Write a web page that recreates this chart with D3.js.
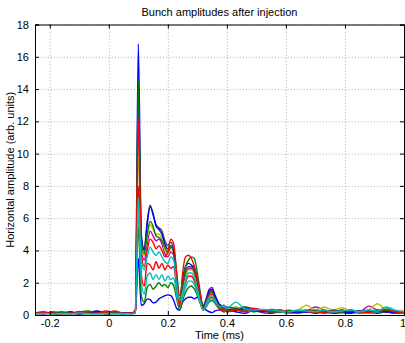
<!DOCTYPE html>
<html>
<head>
<meta charset="utf-8">
<script src="https://cdn.jsdelivr.net/npm/d3@7"></script>
<style>
  html, body { margin: 0; padding: 0; background: #fff; }
  svg { display: block; font-family: "Liberation Sans", Arial, Helvetica, sans-serif; }
</style>
</head>
<body>
<script>
// Sample times (ms)
const times = [
  -0.25, -0.22, -0.19, -0.16, -0.13, -0.10, -0.07, -0.04, -0.01, 0.02, 0.05, 0.08,
  0.09, 0.10, 0.11, 0.12, 0.13, 0.14, 0.15, 0.16, 0.17, 0.18, 0.19, 0.20, 0.21, 0.22,
  0.23, 0.24, 0.25, 0.26, 0.27, 0.28, 0.29, 0.30, 0.31, 0.32, 0.33, 0.34, 0.35, 0.36,
  0.37, 0.38, 0.39, 0.40,
  0.43, 0.46, 0.49, 0.52, 0.55, 0.58, 0.61, 0.64, 0.67, 0.70, 0.73, 0.76, 0.79, 0.82,
  0.85, 0.88, 0.91, 0.94, 0.97, 1.00
];

// Bunch amplitudes (arb. units), one array per bunch, drawn in this order
const bunch01 = [0.10,0.15,0.08,0.12,0.20,0.10,0.15,0.25,0.10,0.12,0.08,0.15,
  0.1,3.5,0.6,0.7,1.0,0.95,0.75,0.8,1.0,1.1,1.2,1.25,1.2,0.9,
  0.4,0.3,0.8,1.0,1.1,1.1,1.0,1.1,0.9,0.5,0.3,0.2,0.15,0.25,
  0.3,0.3,0.2,0.3,
  0.2,0.1,0.3,0.15,0.1,0.2,0.1,0.15,0.2,0.1,0.2,0.1,0.15,0.1,0.2,0.15,0.1,0.2,0.1,0.15];
const bunch02 = [0.15,0.10,0.20,0.12,0.08,0.18,0.25,0.10,0.15,0.20,0.12,0.10,
  0.2,5.5,1.2,0.8,1.7,1.9,1.6,1.8,2.0,1.8,1.9,1.7,2.0,1.8,
  1.0,0.3,0.9,1.4,1.7,1.8,1.6,1.2,0.7,0.3,0.5,0.8,0.9,0.7,
  0.5,0.3,0.3,0.2,
  0.3,0.4,0.2,0.3,0.15,0.2,0.25,0.1,0.2,0.15,0.3,0.2,0.15,0.2,0.1,0.2,0.25,0.15,0.2,0.1];
const bunch03 = [0.12,0.20,0.10,0.15,0.08,0.22,0.12,0.10,0.25,0.15,0.10,0.12,
  0.2,8.0,2.5,1.8,3.2,3.1,2.8,3.3,2.9,3.2,2.8,3.1,2.9,3.0,
  1.6,0.6,1.3,2.0,2.4,2.4,2.1,1.5,0.9,0.4,0.6,1.0,1.1,0.8,
  0.5,0.3,0.2,0.3,
  0.4,0.2,0.35,0.2,0.3,0.15,0.2,0.25,0.15,0.2,0.1,0.2,0.3,0.15,0.2,0.25,0.3,0.2,0.1,0.2];
const bunch04 = [0.05,0.10,0.08,0.06,0.10,0.05,0.08,0.10,0.06,0.08,0.05,0.10,
  0.1,6.5,2.0,1.3,2.4,2.6,2.2,2.5,2.2,2.5,2.1,2.4,2.2,2.3,
  1.2,0.5,1.1,1.7,2.1,2.1,1.9,1.3,0.8,0.4,0.5,0.9,1.0,0.7,
  0.5,0.4,0.3,0.2,
  0.5,0.3,0.2,0.25,0.3,0.2,0.1,0.15,0.2,0.25,0.2,0.15,0.3,0.2,0.15,0.1,0.2,0.45,0.2,0.15];
const bunch05 = [0.10,0.08,0.12,0.15,0.10,0.08,0.20,0.12,0.10,0.15,0.10,0.12,
  0.2,11.0,4.0,3.4,4.4,5.2,4.9,4.6,4.7,4.4,3.8,3.6,3.9,3.7,
  2.0,0.7,1.6,2.4,2.9,2.9,2.6,1.9,1.1,0.4,1.0,1.6,1.7,1.2,
  0.8,0.5,0.4,0.3,
  0.3,0.5,0.3,0.2,0.35,0.3,0.2,0.3,0.25,0.5,0.3,0.2,0.25,0.3,0.2,0.55,0.3,0.2,0.25,0.2];
const bunch06 = [0.08,0.12,0.10,0.08,0.15,0.12,0.10,0.08,0.12,0.10,0.15,0.10,
  0.2,10.5,4.3,3.7,4.8,5.6,5.3,5.0,5.0,4.7,4.0,3.8,4.1,3.8,
  2.1,0.6,1.5,2.3,2.8,2.8,2.5,1.8,1.0,0.3,0.9,1.4,1.5,1.1,
  0.8,0.6,0.5,0.4,
  0.5,0.3,0.4,0.3,0.25,0.3,0.2,0.3,0.6,0.3,0.5,0.3,0.45,0.25,0.2,0.3,0.7,0.3,0.2,0.25];
const bunch07 = [0.10,0.12,0.08,0.10,0.12,0.15,0.10,0.12,0.08,0.10,0.12,0.10,
  0.2,13.5,4.8,4.1,5.8,6.8,6.2,5.6,5.4,5.2,4.6,4.3,4.5,4.0,
  2.2,0.8,1.8,2.7,3.0,3.0,2.7,2.0,1.1,0.6,1.0,1.4,1.5,1.1,
  0.7,0.6,0.4,0.5,
  0.4,0.3,0.25,0.2,0.3,0.2,0.25,0.2,0.3,0.2,0.25,0.2,0.3,0.2,0.25,0.3,0.2,0.25,0.2,0.2];
const bunch08 = [0.12,0.08,0.15,0.10,0.12,0.08,0.10,0.20,0.12,0.10,0.15,0.12,
  0.3,16.8,5.0,4.0,5.6,6.7,6.3,5.5,5.3,5.0,4.4,4.1,4.3,3.9,
  2.0,0.9,2.2,3.0,3.2,3.1,2.9,2.2,1.2,0.5,0.9,1.5,1.6,1.2,
  0.8,0.5,0.6,0.4,
  0.3,0.4,0.3,0.25,0.2,0.3,0.2,0.15,0.2,0.25,0.2,0.3,0.2,0.15,0.25,0.2,0.3,0.2,0.15,0.2];
const bunch09 = [0.15,0.10,0.12,0.20,0.10,0.15,0.12,0.10,0.18,0.12,0.10,0.15,
  0.2,14.5,4.6,3.8,5.0,5.8,5.5,4.9,4.8,4.6,4.2,3.9,4.2,4.1,
  2.6,1.2,2.0,3.0,3.4,3.6,3.5,2.6,1.4,0.4,0.8,1.3,1.4,1.0,
  0.6,0.4,0.3,0.3,
  0.3,0.5,0.4,0.3,0.2,0.25,0.3,0.2,0.25,0.3,0.2,0.25,0.2,0.3,0.2,0.25,0.2,0.3,0.2,0.15];
const bunch10 = [0.10,0.15,0.12,0.08,0.10,0.20,0.10,0.12,0.15,0.25,0.10,0.12,
  0.3,12.1,3.8,3.0,4.0,4.7,4.5,4.1,4.3,4.0,3.6,3.9,4.7,4.4,
  2.5,0.5,2.6,3.6,3.7,3.5,3.0,2.2,1.2,0.3,0.8,1.2,1.3,0.9,
  0.5,0.3,0.4,0.2,
  0.3,0.2,0.4,0.3,0.2,0.3,0.2,0.25,0.3,0.2,0.15,0.25,0.2,0.3,0.2,0.15,0.25,0.35,0.2,0.15];
const bunch11 = [0.08,0.10,0.06,0.10,0.08,0.12,0.08,0.06,0.10,0.08,0.10,0.06,
  0.2,7.3,3.3,2.8,3.6,4.2,3.9,3.7,3.9,3.6,3.3,3.2,3.6,3.4,
  1.8,0.9,1.4,2.1,2.6,2.6,2.3,1.6,0.8,0.3,0.7,1.1,1.2,0.9,
  0.6,0.5,0.6,0.4,
  0.8,0.4,0.3,0.35,0.3,0.25,0.2,0.3,0.25,0.2,0.3,0.2,0.25,0.3,0.2,0.3,0.25,0.5,0.3,0.2];

const bunches = [bunch01, bunch02, bunch03, bunch04, bunch05, bunch06,
                 bunch07, bunch08, bunch09, bunch10, bunch11];

// Default line colour cycle
const lineColors = ["#0000ff", "#008000", "#ff0000", "#00bfbf", "#bf00bf", "#bfbf00", "#404040"];

const xTicks = [-0.2, 0, 0.2, 0.4, 0.6, 0.8, 1];
const xTickLabels = ["-0.2", "0", "0.2", "0.4", "0.6", "0.8", "1"];
const yTicks = [0, 2, 4, 6, 8, 10, 12, 14, 16, 18];
const yTickLabels = ["0", "2", "4", "6", "8", "10", "12", "14", "16", "18"];

const W = 405, H = 343;
const plot = { left: 35, right: 404, top: 24.5, bottom: 315 };

const svg = d3.select("body").append("svg")
  .attr("width", W).attr("height", H);

svg.append("rect").attr("width", W).attr("height", H).attr("fill", "#fff");

const x = d3.scaleLinear().domain([-0.25, 1]).range([plot.left, plot.right]);
const y = d3.scaleLinear().domain([0, 18]).range([plot.bottom, plot.top]);

const ph = plot.bottom - plot.top;
const pw = plot.right - plot.left;

// Dotted grid
const grid = svg.append("g").attr("class", "grid");
grid.append("g")
  .attr("transform", `translate(0,${plot.bottom})`)
  .call(d3.axisBottom(x).tickValues(xTicks).tickSize(-ph).tickFormat(""))
  .call(g => g.select(".domain").remove());
grid.append("g")
  .attr("transform", `translate(${plot.left},0)`)
  .call(d3.axisLeft(y).tickValues(yTicks).tickSize(-pw).tickFormat(""))
  .call(g => g.select(".domain").remove());
grid.selectAll("line")
  .attr("stroke", "#9a9a9a").attr("stroke-width", 0.8)
  .attr("stroke-dasharray", "1,2.2");

// Traces
svg.append("clipPath").attr("id", "plotclip")
  .append("rect").attr("x", plot.left).attr("y", plot.top)
  .attr("width", pw).attr("height", ph);

const line = d3.line()
  .x((d, i) => x(times[i]))
  .y(d => y(d))
  .curve(d3.curveMonotoneX);

svg.append("g").attr("clip-path", "url(#plotclip)")
  .selectAll("path")
  .data(bunches)
  .join("path")
  .attr("d", d => line(d))
  .attr("fill", "none")
  .attr("stroke", (d, i) => lineColors[i % lineColors.length])
  .attr("stroke-width", 1.4)
  .attr("stroke-linejoin", "round");

// Axes with inward ticks on all four sides
const axes = svg.append("g").attr("class", "axes");
const tickLen = 4;
axes.append("g")
  .attr("class", "x-bottom")
  .attr("transform", `translate(0,${plot.bottom})`)
  .call(d3.axisBottom(x).tickValues(xTicks).tickSize(-tickLen).tickPadding(4)
    .tickFormat((d, i) => xTickLabels[i]));
axes.append("g")
  .attr("transform", `translate(0,${plot.top})`)
  .call(d3.axisTop(x).tickValues(xTicks).tickSize(-tickLen).tickFormat(""));
axes.append("g")
  .attr("transform", `translate(${plot.left},0)`)
  .call(d3.axisLeft(y).tickValues(yTicks).tickSize(-tickLen).tickPadding(6)
    .tickFormat((d, i) => yTickLabels[i]));
axes.append("g")
  .attr("transform", `translate(${plot.right},0)`)
  .call(d3.axisRight(y).tickValues(yTicks).tickSize(-tickLen).tickFormat(""));

axes.selectAll(".domain").attr("stroke", "#000").attr("stroke-width", 1);
axes.selectAll(".tick line").attr("stroke", "#000").attr("stroke-width", 1);
axes.selectAll(".tick text").attr("fill", "#000").attr("font-size", 11)
  .attr("font-family", "'Liberation Sans', Arial, Helvetica, sans-serif");
// keep the right-most label inside the figure edge
axes.select(".x-bottom").selectAll(".tick:last-of-type text").attr("dx", -1.5);

// Titles
svg.append("text")
  .attr("x", (plot.left + plot.right) / 2).attr("y", 16)
  .attr("text-anchor", "middle").attr("font-size", 11).attr("fill", "#000")
  .text("Bunch amplitudes after injection");

svg.append("text")
  .attr("x", (plot.left + plot.right) / 2).attr("y", 339)
  .attr("text-anchor", "middle").attr("font-size", 11).attr("fill", "#000")
  .text("Time (ms)");

svg.append("text")
  .attr("transform", `translate(14,${(plot.top + plot.bottom) / 2}) rotate(-90)`)
  .attr("text-anchor", "middle").attr("font-size", 11).attr("fill", "#000")
  .text("Horizontal amplitude (arb. units)");
</script>
</body>
</html>
